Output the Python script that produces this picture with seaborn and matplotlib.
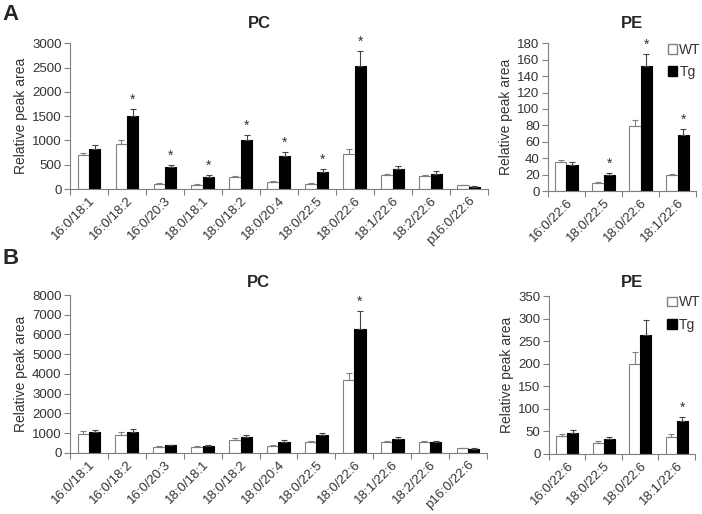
import pandas as pd
import matplotlib.pyplot as plt
import seaborn as sns
from matplotlib.patches import Patch

sns.set_style("white")
plt.rcParams["font.family"] = ["Liberation Sans", "DejaVu Sans"]

pc_lipids = ["16:0/18:1", "16:0/18:2", "16:0/20:3", "18:0/18:1", "18:0/18:2", "18:0/20:4",
             "18:0/22:5", "18:0/22:6", "18:1/22:6", "18:2/22:6", "p16:0/22:6"]
pe_lipids = ["16:0/22:6", "18:0/22:5", "18:0/22:6", "18:1/22:6"]

# panel A, PC
a_pc_wt = [700, 930, 110, 90, 250, 150, 110, 720, 290, 270, 80]
a_pc_wt_err = [50, 90, 15, 10, 20, 10, 15, 100, 20, 20, 10]
a_pc_tg = [830, 1500, 450, 260, 1000, 690, 360, 2540, 420, 320, 50]
a_pc_tg_err = [70, 140, 50, 30, 110, 80, 50, 290, 50, 50, 10]
a_pc_star = [1, 2, 3, 4, 5, 6, 7]

# panel A, PE
a_pe_wt = [35, 10, 79, 20]
a_pe_wt_err = [3, 1, 8, 1.5]
a_pe_tg = [32, 20, 152, 68]
a_pe_tg_err = [3, 2, 15, 8]
a_pe_star = [1, 2, 3]

# panel B, PC
b_pc_wt = [950, 900, 320, 300, 660, 360, 530, 3700, 560, 530, 230]
b_pc_wt_err = [150, 150, 40, 40, 100, 40, 60, 350, 50, 50, 20]
b_pc_tg = [1080, 1050, 380, 360, 780, 560, 880, 6300, 720, 560, 210]
b_pc_tg_err = [100, 150, 30, 40, 100, 80, 120, 900, 60, 50, 20]
b_pc_star = [7]

# panel B, PE
b_pe_wt = [40, 25, 199, 38]
b_pe_wt_err = [5, 4, 27, 5]
b_pe_tg = [47, 33, 263, 73]
b_pe_tg_err = [6, 5, 35, 8]
b_pe_star = [3]

grey = "#808080"
txt = "#333333"


def panel(ax, lipids, wt, wt_err, tg, tg_err, stars, ymax, ystep):
    n = len(lipids)
    df = pd.DataFrame({"lipid": lipids * 2, "value": wt + tg,
                       "group": ["WT"] * n + ["Tg"] * n})
    sns.barplot(df, x="lipid", y="value", hue="group", palette={"WT": "white", "Tg": "black"},
                width=0.6, errorbar=None, ax=ax, legend=False, linewidth=0.8)
    for cont, err, col in zip(ax.containers, [wt_err, tg_err], [grey, "black"]):
        for bar, e in zip(cont, err):
            bar.set_edgecolor(col)
            x = bar.get_x() + bar.get_width() / 2
            ax.errorbar(x, bar.get_height(), yerr=[[0], [e]], color=grey if col == grey else "#444444",
                        lw=0.8, capsize=2.5, capthick=0.8)
    tg_bars = ax.containers[1]
    for i in stars:
        b = tg_bars[i]
        ax.text(b.get_x() + b.get_width() / 2, tg[i] + tg_err[i] + ymax * 0.015, "*",
                ha="center", va="bottom", fontsize=10, color=txt)
    ax.set_xlim(-0.5, n - 0.5)
    ax.set_ylim(0, ymax)
    ax.set_yticks(range(0, ymax + 1, ystep))
    ax.set_xticks(range(n))
    ax.set_xticklabels(lipids, rotation=45, ha="right", rotation_mode="anchor")
    ax.set_xticks([i - 0.5 for i in range(n + 1)], minor=True)
    ax.tick_params(axis="x", which="major", length=0, labelsize=9.5, labelcolor=txt, pad=4)
    ax.tick_params(axis="x", which="minor", length=4, color=grey, width=0.8, direction="out")
    ax.tick_params(axis="y", length=4, color=grey, width=0.8, direction="out", labelsize=9.5,
                   labelcolor=txt, pad=2)
    ax.tick_params(bottom=True, left=True, which="both")
    for s in ["top", "right"]:
        ax.spines[s].set_visible(False)
    for s in ["left", "bottom"]:
        ax.spines[s].set_color(grey)
        ax.spines[s].set_linewidth(0.8)
    ax.set_xlabel("")
    ax.set_ylabel("Relative peak area", fontsize=10, color=txt, labelpad=3)


fig = plt.figure(figsize=(7.02, 5.14), dpi=100)
ax1 = fig.add_axes([0.0997, 0.632, 0.595, 0.284])
ax2 = fig.add_axes([0.7806, 0.628, 0.211, 0.288])
ax3 = fig.add_axes([0.0997, 0.119, 0.594, 0.307])
ax4 = fig.add_axes([0.782, 0.117, 0.208, 0.307])

panel(ax1, pc_lipids, a_pc_wt, a_pc_wt_err, a_pc_tg, a_pc_tg_err, a_pc_star, 3000, 500)
panel(ax2, pe_lipids, a_pe_wt, a_pe_wt_err, a_pe_tg, a_pe_tg_err, a_pe_star, 180, 20)
panel(ax3, pc_lipids, b_pc_wt, b_pc_wt_err, b_pc_tg, b_pc_tg_err, b_pc_star, 8000, 1000)
panel(ax4, pe_lipids, b_pe_wt, b_pe_wt_err, b_pe_tg, b_pe_tg_err, b_pe_star, 350, 50)

handles = [Patch(facecolor="white", edgecolor=grey, label="WT"),
           Patch(facecolor="black", edgecolor="black", label="Tg")]
for ax in [ax2, ax4]:
    ax.legend(handles=handles, loc="upper left", bbox_to_anchor=(0.77, 1.04), frameon=False,
              handlelength=0.7, handleheight=0.7, handletextpad=0.15, fontsize=10,
              labelcolor=txt, borderaxespad=0, labelspacing=0.6)

fig.text(0.370, 0.955, "PC", ha="center", va="center", fontsize=12, fontweight="bold")
fig.text(0.900, 0.955, "PE", ha="center", va="center", fontsize=12, fontweight="bold")
fig.text(0.3675, 0.451, "PC", ha="center", va="center", fontsize=12, fontweight="bold")
fig.text(0.900, 0.451, "PE", ha="center", va="center", fontsize=12, fontweight="bold")
fig.text(0.004, 0.972, "A", ha="left", va="center", fontsize=16, fontweight="bold")
fig.text(0.004, 0.497, "B", ha="left", va="center", fontsize=16, fontweight="bold")

fig.savefig("out.png", dpi=100)
